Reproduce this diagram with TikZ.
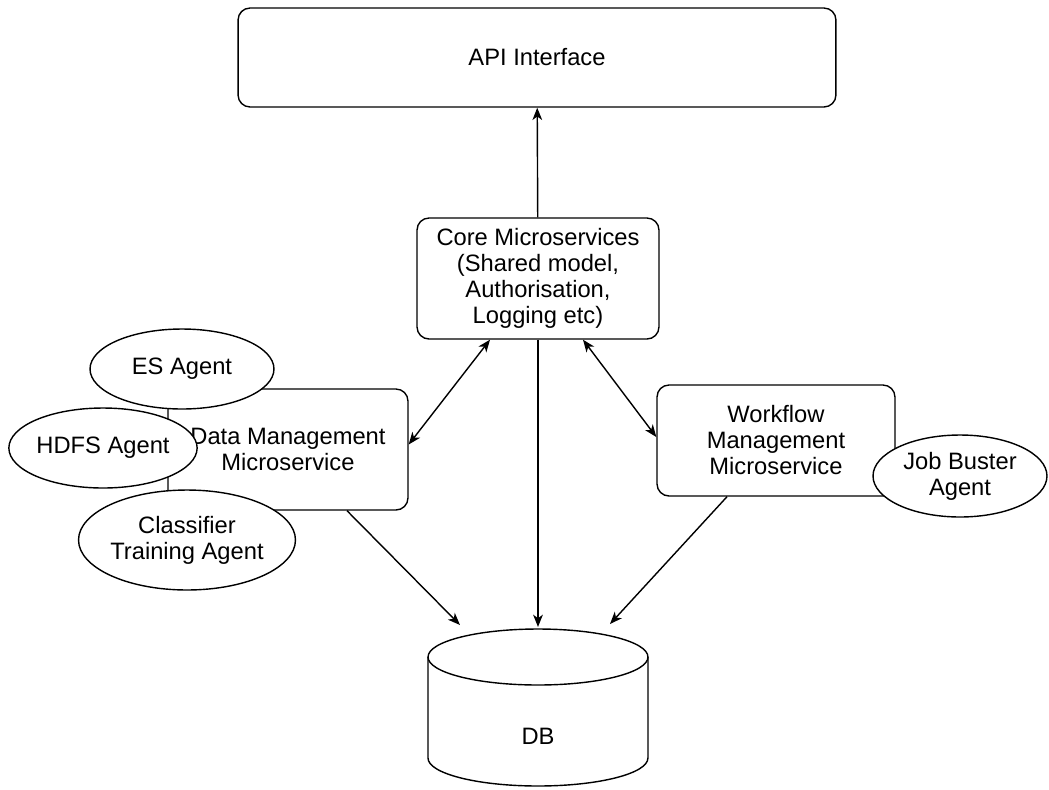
\documentclass[tikz,border=0pt]{standalone}
\usepackage{fontspec}
\setmainfont{Liberation Sans}
\usetikzlibrary{shapes.geometric,arrows.meta}

\begin{document}
\begin{tikzpicture}[x=0.02cm,y=-0.02cm,>={Stealth[length=7pt,width=5.5pt,inset=2pt]},
font=\fontsize{13.5}{14.8}\selectfont]
\tikzstyle{box}=[rectangle,rounded corners=0.24cm,thick,draw=black,fill=white,
inner sep=2pt,align=center]
\tikzstyle{agent}=[ellipse,thick,draw=black,fill=white,inner sep=0pt,align=center]
\tikzstyle{link}=[thick]
\useasboundingbox (0,0) rectangle (1049,789);

\node[box,minimum width=11.96cm,minimum height=1.98cm] at (537,57.5) (api) {API Interface};
\node[box,minimum width=4.84cm,minimum height=2.42cm] at (538,278.5) (core)
 {Core Microservices\\(Shared model,\\Authorisation,\\Logging etc)};
\node[box,minimum width=4.8cm,minimum height=2.42cm] at (288,449.5) (dm)
 {Data Management\\Microservice};
\node[box,minimum width=4.76cm,minimum height=2.22cm] at (776,440.5) (wf)
 {Workflow\\Management\\Microservice};

\node[agent,minimum width=3.68cm,minimum height=1.6cm] at (182,369) (es) {ES Agent};
\node[agent,minimum width=3.64cm,minimum height=1.6cm] at (103,448) (hdfs) {HDFS Agent};
\node[agent,minimum width=3.88cm,minimum height=2cm] at (187,540) (cta)
 {Classifier\\Training Agent};
\node[agent,minimum width=3.48cm,minimum height=1.64cm] at (960,476) (jba)
 {Job Buster\\Agent};

% database
\node[minimum width=4.4cm,minimum height=3.14cm,inner sep=0pt] at (538,707) (db) {};
\draw[thick,fill=white] (428,657) -- (428,758)
 arc[start angle=180,end angle=360,x radius=2.2cm,y radius=0.56cm] -- (648,657);
\draw[thick,fill=white] (538,657) ellipse [x radius=2.2cm,y radius=0.56cm];
\node at (538,736) (dbtext) {DB};
\coordinate (dbl) at (460,625);
\coordinate (dbm) at (538,627);
\coordinate (dbr) at (610,624);

\path[->,link] (core) edge (api);
\draw[<->,link] ([xshift=-0.96cm]core.south) -- ([yshift=0.1cm]dm.east);
\draw[<->,link] ([xshift=0.9cm]core.south) -- ([yshift=0.07cm]wf.west);
\draw[->,link] (core.south) -- (dbm);
\draw[->,link] ([xshift=1.18cm]dm.south) -- (dbl);
\draw[->,link] ([xshift=-0.98cm]wf.south) -- (dbr);

\end{tikzpicture}
\end{document}
